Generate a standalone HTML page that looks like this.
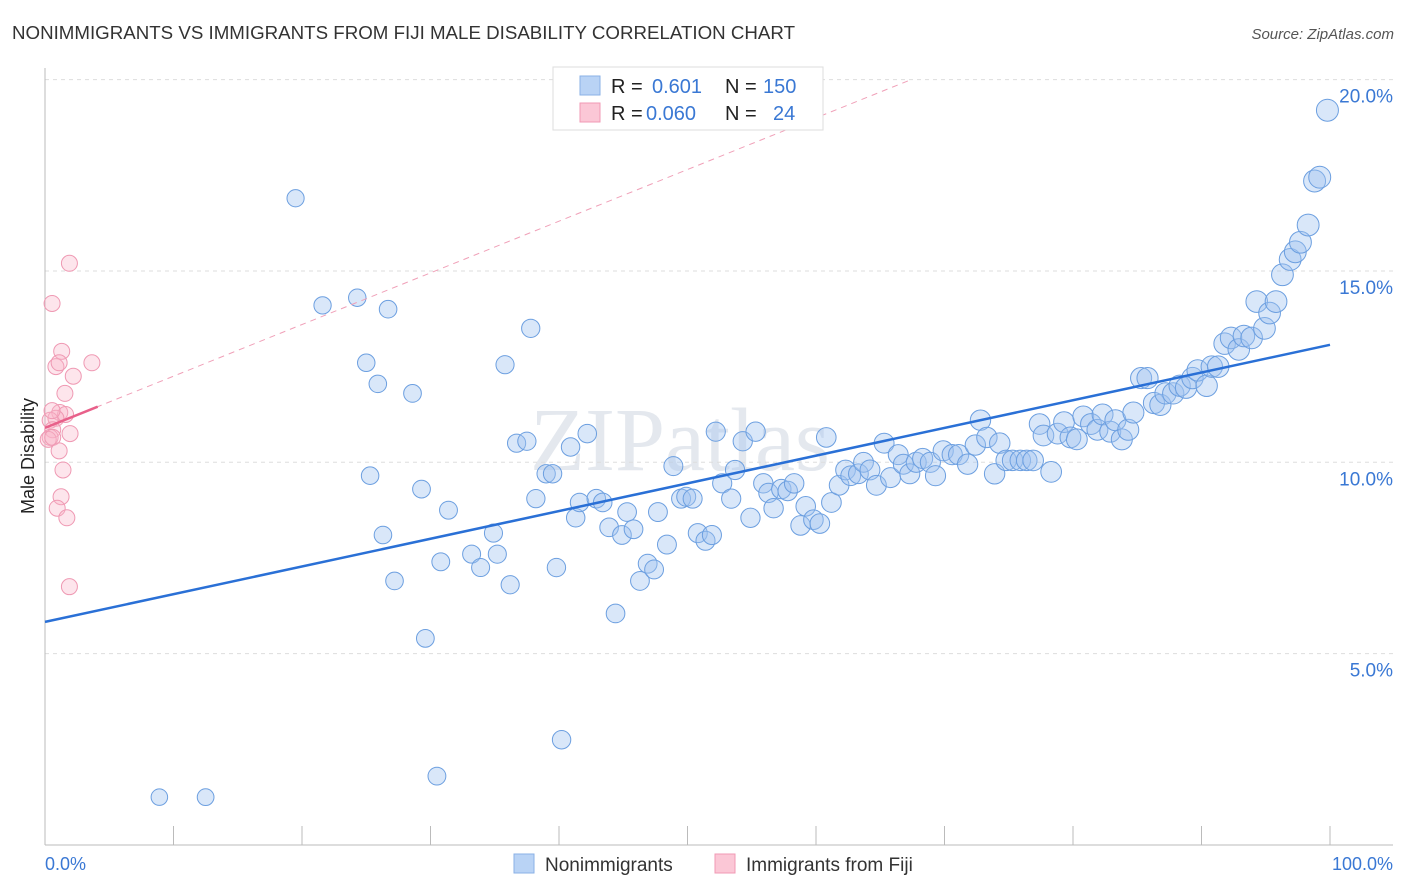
<!DOCTYPE html>
<html><head><meta charset="utf-8"><style>
body{margin:0;background:#fff;font-family:"Liberation Sans",sans-serif;}
svg{display:block}
</style></head><body>
<svg id="chart" width="1406" height="892">
<text x="12" y="39" font-size="18" fill="#333" textLength="783" lengthAdjust="spacingAndGlyphs">NONIMMIGRANTS VS IMMIGRANTS FROM FIJI MALE DISABILITY CORRELATION CHART</text>
<text x="1394" y="39" font-size="15" fill="#555" font-style="italic" text-anchor="end">Source: ZipAtlas.com</text>
<text x="34" y="456" font-size="18" fill="#222" text-anchor="middle" transform="rotate(-90 34 456)">Male Disability</text>
<text x="680" y="470" font-size="90" fill="#e4e8ee" font-family="Liberation Serif,serif" text-anchor="middle">ZIPatlas</text>
<g id="grid"></g><g id="axes"></g><g id="pts"></g><g id="lines"></g>
<g>
<rect x="553" y="67" width="270" height="63" fill="#fff" stroke="#ddd"/>
<rect x="580" y="76" width="20" height="19" fill="#b9d3f5" stroke="#8ab0e6"/>
<rect x="580" y="103" width="20" height="19" fill="#fbc7d6" stroke="#f09ab4"/>
<text x="611" y="93" font-size="20" fill="#222">R = <tspan fill="#3a78d4" x="652">0.601</tspan><tspan x="725" fill="#222">N =</tspan><tspan fill="#3a78d4" x="763">150</tspan></text>
<text x="611" y="120" font-size="20" fill="#222">R = <tspan fill="#3a78d4" x="646">0.060</tspan><tspan x="725" fill="#222">N =</tspan><tspan fill="#3a78d4" x="773">24</tspan></text>
</g>
<g>
<rect x="514" y="854" width="20" height="19" fill="#b9d3f5" stroke="#8ab0e6"/>
<text x="545" y="871" font-size="19" fill="#333">Nonimmigrants</text>
<rect x="715" y="854" width="20" height="19" fill="#fbc7d6" stroke="#f09ab4"/>
<text x="746" y="871" font-size="19" fill="#333">Immigrants from Fiji</text>
</g>
<text x="45" y="870" font-size="18" fill="#3a78d4">0.0%</text>
<text x="1393" y="870" font-size="18" fill="#3a78d4" text-anchor="end">100.0%</text>
</svg>
<script>
const yTicks=[5,10,15,20];
const yTickLabels=["5.0%","10.0%","15.0%","20.0%"];
const xTicks=[0,10,20,30,40,50,60,70,80,90,100];
const blueX=[8.9,12.5,19.5,21.6,24.3,26.7,25.0,25.9,28.6,25.3,26.3,27.2,29.3,29.6,30.5,31.4,30.8,33.2,33.9,34.9,35.2,36.2,35.8,37.8,36.7,37.5,39.0,39.5,38.2,40.9,42.2,39.8,40.2,41.3,41.6,42.9,43.4,43.9,44.4,44.9,45.3,45.8,46.3,46.9,47.4,47.7,48.4,48.9,49.5,49.9,50.4,50.8,51.4,51.9,52.2,52.7,53.4,53.7,54.3,54.9,55.3,55.9,56.3,56.7,57.3,57.8,58.3,58.8,59.2,59.8,60.3,60.8,61.2,61.8,62.3,62.7,63.3,63.7,64.2,64.7,65.3,65.8,66.4,66.8,67.3,67.8,68.3,68.9,69.3,69.9,70.6,71.1,71.8,72.4,72.8,73.3,73.9,74.3,74.8,75.3,75.9,76.4,76.9,77.4,77.7,78.3,78.8,79.3,79.8,80.3,80.8,81.4,81.9,82.3,82.9,83.3,83.8,84.3,84.7,85.3,85.8,86.3,86.8,87.2,87.8,88.3,88.8,89.3,89.7,90.4,90.8,91.3,91.8,92.3,92.9,93.3,93.9,94.3,94.9,95.3,95.8,96.3,96.9,97.3,97.7,98.3,98.8,99.2,99.8];
const blueY=[1.25,1.25,16.9,14.1,14.3,14.0,12.6,12.05,11.8,9.65,8.1,6.9,9.3,5.4,1.8,8.75,7.4,7.6,7.25,8.15,7.6,6.8,12.55,13.5,10.5,10.55,9.7,9.7,9.05,10.4,10.75,7.25,2.75,8.55,8.95,9.05,8.95,8.3,6.05,8.1,8.7,8.25,6.9,7.35,7.2,8.7,7.85,9.9,9.05,9.1,9.05,8.15,7.95,8.1,10.8,9.45,9.05,9.8,10.55,8.55,10.8,9.45,9.2,8.8,9.3,9.25,9.45,8.35,8.85,8.5,8.4,10.65,8.95,9.4,9.8,9.65,9.7,10.0,9.8,9.4,10.5,9.6,10.2,9.95,9.7,10.0,10.1,10.0,9.65,10.3,10.2,10.2,9.95,10.45,11.1,10.65,9.7,10.5,10.05,10.05,10.05,10.05,10.05,11.0,10.7,9.75,10.75,11.05,10.65,10.6,11.2,11.0,10.85,11.25,10.8,11.1,10.6,10.85,11.3,12.2,12.2,11.55,11.5,11.8,11.8,12.0,11.95,12.2,12.4,12.0,12.5,12.5,13.1,13.25,12.95,13.3,13.25,14.2,13.5,13.9,14.2,14.9,15.3,15.5,15.75,16.2,17.35,17.45,19.2];
const pinkX=[1.9,0.55,1.3,0.85,1.1,3.65,2.2,1.55,1.15,1.6,0.85,0.4,0.6,0.4,1.95,0.25,0.6,1.1,1.4,1.25,0.95,1.7,1.9,0.55];
const pinkY=[15.2,14.15,12.9,12.5,12.6,12.6,12.25,11.8,11.3,11.25,11.15,11.1,10.85,10.65,10.75,10.6,10.65,10.3,9.8,9.1,8.8,8.55,6.75,11.35];
const blueTrend=[5.83,13.07];
const pinkTrend=[10.9,0.135];
const sx=v=>45+v*12.85, sy=v=>845-v*38.27;
const NS="http://www.w3.org/2000/svg";
function mk(t,a,p){const e=document.createElementNS(NS,t);for(const k in a)e.setAttribute(k,a[k]);p.appendChild(e);return e;}
const grid=document.getElementById('grid'),axes=document.getElementById('axes'),pts=document.getElementById('pts'),lines=document.getElementById('lines');
yTicks.forEach((v,i)=>{
 const l=mk('line',{x1:45,x2:1393,y1:sy(v),y2:sy(v),stroke:'#ddd','stroke-dasharray':'4,4'},grid);
 
 
 const t=mk('text',{x:1393,y:sy(v)+23,'font-size':19,fill:'#3a78d4','text-anchor':'end'},grid);
 t.textContent=yTickLabels[i];
 
 
});
const ax=mk('line',{x1:45,x2:1393,y1:845,y2:845,stroke:'#bbb'},axes);


const ay=mk('line',{x1:45,x2:45,y1:68,y2:845,stroke:'#bbb'},axes);


xTicks.forEach(v=>{
 const l=mk('line',{x1:sx(v),x2:sx(v),y1:826,y2:845,stroke:'#bbb'},axes);
 
 
});
blueX.forEach((x,i)=>{
 const c=mk('circle',{cx:sx(x),cy:sy(blueY[i]),r:8+x*0.03,fill:'rgba(160,195,240,0.4)',stroke:'#6c9fe0','stroke-width':1},pts);
 
 
});
pinkX.forEach((x,i)=>{
 const c=mk('circle',{cx:sx(x),cy:sy(pinkY[i]),r:8,fill:'rgba(248,180,200,0.35)',stroke:'#ef99b3','stroke-width':1},pts);
 
 
});
const bl=mk('line',{x1:sx(0),y1:sy(blueTrend[0]),x2:sx(100),y2:sy(blueTrend[1]),stroke:'#2a70d6','stroke-width':2.5},lines);


const pxEnd=(20-pinkTrend[0])/pinkTrend[1];
const pd=mk('line',{x1:sx(0),y1:sy(pinkTrend[0]),x2:sx(pxEnd),y2:sy(20),stroke:'#f0a0b8','stroke-width':1,'stroke-dasharray':'6,5'},lines);


const ps=mk('line',{x1:sx(0),y1:sy(pinkTrend[0]),x2:sx(4.1),y2:sy(pinkTrend[0]+4.1*pinkTrend[1]),stroke:'#e8608a','stroke-width':2.5},lines);


</script>
</body></html>
